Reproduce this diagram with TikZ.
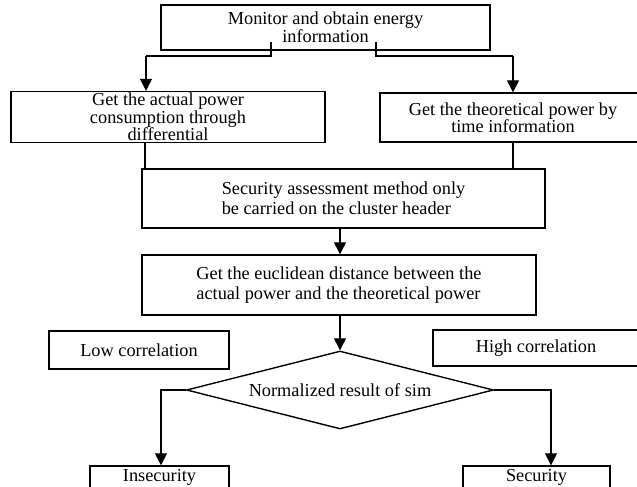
\documentclass[tikz,border=0pt]{standalone}
\usepackage{fontspec}
\setmainfont{Liberation Serif}
\usetikzlibrary{shapes.geometric,arrows.meta,calc}
\tikzset{
  box/.style={draw, line width=1.4pt, inner sep=0pt, align=center, font=\fontsize{18.3}{16}\selectfont},
  conn/.style={line width=1.3pt},
  arr/.style={line width=1.3pt, -{Triangle[width=12pt,length=12pt]}},
}
\begin{document}
\begin{tikzpicture}[x=1pt,y=-1pt]
\useasboundingbox (0,0) rectangle (637,487);
% boxes
\node[box, minimum width=329pt, minimum height=45pt, font=\fontsize{18.3}{16.5}\selectfont] (top) at (325.5,27.5) {Monitor and obtain energy\\information};
\node[box, minimum width=314pt, minimum height=51pt, font=\fontsize{18.3}{15}\selectfont] (left) at (168,117) {Get the actual power\\consumption through\\differential};
\node[box, minimum width=266pt, minimum height=49pt, font=\fontsize{18.3}{17}\selectfont] (right) at (513,117.5) {Get the theoretical power by\\time information};
\node[box, minimum width=403pt, minimum height=59pt, align=left, font=\fontsize{18.3}{20}\selectfont] (sec) at (343.5,198.5) {Security assessment method only\\be carried on the cluster header};
\node[box, minimum width=394pt, minimum height=60pt, align=left, font=\fontsize{18.3}{20}\selectfont] (euc) at (339,285) {Get the euclidean distance between the\\actual power and the theoretical power};
\node[box, minimum width=180pt, minimum height=38pt] (low) at (139,350) {Low correlation};
\node[box, minimum width=206pt, minimum height=36pt] (high) at (536,348) {High correlation};
\node[box, shape=diamond, aspect=4, minimum width=307pt, minimum height=78pt] (dia) at (340,390) {Normalized result of sim};
\node[box, minimum width=139pt, minimum height=22pt] (insec) at (159.5,477) {Insecurity};
\node[box, minimum width=147pt, minimum height=22pt] (secu) at (536.5,477) {Security};
% helper coordinates
\coordinate (t1) at (271,42);
\coordinate (t2) at (376,42);
\coordinate (k1) at (146,56);
\coordinate (k2) at (513,56);
\coordinate (lx) at (145,0);
\coordinate (rx) at (513,0);
\coordinate (cx) at (340,0);
\coordinate (ix) at (161,0);
\coordinate (sx) at (551,0);
% connectors
\draw[conn] (t1) |- (k1);
\draw[arr] (k1) -- (k1 |- left.north);
\draw[conn] (t2) |- (k2);
\draw[arr] (k2) -- (k2 |- right.north);
\draw[conn] (left.south -| lx) -- (sec.north -| lx);
\draw[conn] (right.south -| rx) -- (sec.north -| rx);
\draw[arr] (sec.south -| cx) -- (euc.north -| cx);
\draw[arr] (euc.south -| cx) -- (dia.north);
\draw[arr] (dia.west) -| (insec.north -| ix);
\draw[arr] (dia.east) -| (secu.north -| sx);
\end{tikzpicture}
\end{document}
